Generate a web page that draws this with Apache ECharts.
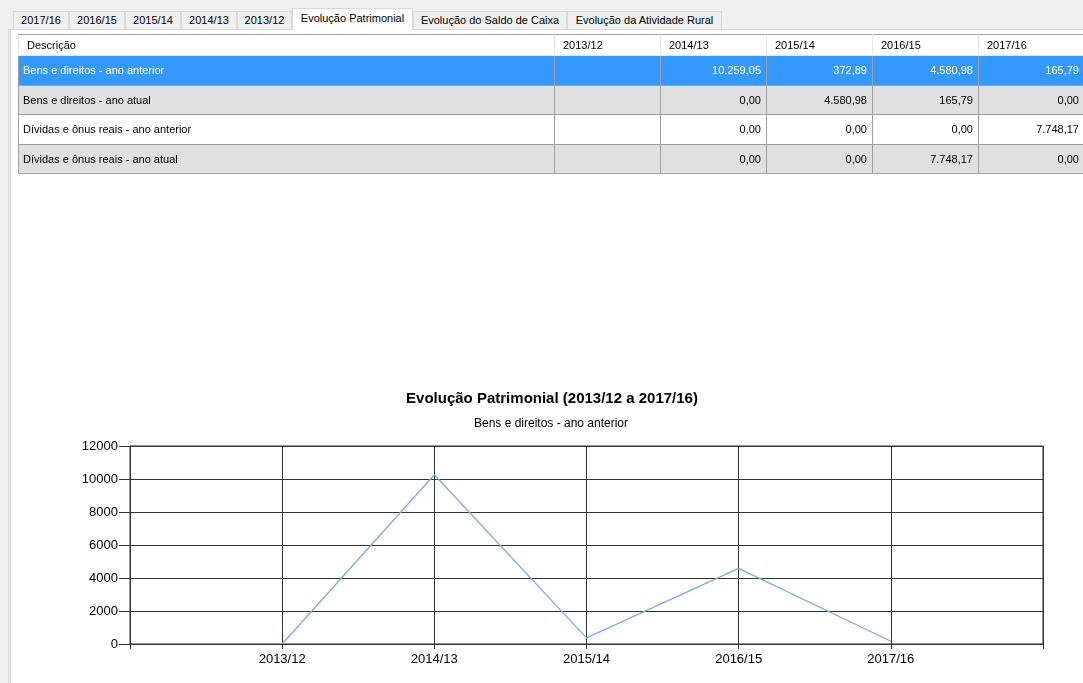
<!DOCTYPE html>
<html><head><meta charset="utf-8">
<script src="https://cdn.jsdelivr.net/npm/echarts@6/dist/echarts.min.js"></script>
<style>
html,body{margin:0;padding:0;width:1083px;height:683px;overflow:hidden;background:#f0f0f0;font-family:"Liberation Sans",Arial,sans-serif;font-size:11px;color:#000}
#panel{position:absolute;left:8px;top:29px;width:1080px;height:660px;background:#fff;border-left:3px solid #e3e3e3;border-top:1px solid #d9d9d9;box-sizing:border-box}
#chart{position:absolute;left:0;top:0;width:1083px;height:683px}
.tab{position:absolute;top:11px;height:18px;box-sizing:border-box;border:1px solid #d9d9d9;border-bottom:none;background:#f0f0f0;line-height:16px;text-align:center;white-space:nowrap}
.tab.sel{top:8px;height:22px;background:#fff;line-height:19px;z-index:3}
#tbl{position:absolute;left:18px;top:34px;width:1070px;overflow:hidden;z-index:2}
table{border-collapse:collapse;table-layout:fixed}
td{height:29.5px;padding:0 5px 0 4px;white-space:nowrap;border:1px solid #a0a0a0;box-sizing:border-box}
th{height:20px;font-weight:normal;text-align:left;padding:0 8px;border:1px solid #e5e5e5;border-top:1px solid #a0a0a0;background:#fff}
td.n{text-align:right;padding-right:5px}
tr.sel td{background:#3399ff;color:#fff}
tr.g td{background:#e0e0e0}
tr.w td{background:#fff}
</style></head><body>
<div id="panel"></div>
<div id="tabs"></div>
<div id="tbl"></div>
<div id="chart"></div>
<script>
// tab labels
var tabLabels = ["2017/16","2016/15","2015/14","2014/13","2013/12","Evolução Patrimonial","Evolução do Saldo de Caixa","Evolução da Atividade Rural"];
var tabEdges = [13,69,125,181,237,292,413,567,722];
// table
var periodos = ["2013/12","2014/13","2015/14","2016/15","2017/16"];
var descricoes = ["Bens e direitos - ano anterior","Bens e direitos - ano atual","Dívidas e ônus reais - ano anterior","Dívidas e ônus reais - ano atual"];
var bensAnterior = [null, 10259.05, 372.89, 4580.98, 165.79];
var bensAtual = [null, 0, 4580.98, 165.79, 0];
var dividasAnterior = [null, 0, 0, 0, 7748.17];
var dividasAtual = [null, 0, 0, 7748.17, 0];
// chart
var chartTitle = "Evolução Patrimonial (2013/12 a 2017/16)";
var chartSubtitle = "Bens e direitos - ano anterior";
var yMin = 0, yMax = 12000, yStep = 2000;

function fmt(v){
  if(v===null) return "";
  var p = v.toFixed(2).split(".");
  return p[0].replace(/\B(?=(\d{3})+(?!\d))/g,".")+","+p[1];
}
// tabs
var th = "";
tabLabels.forEach(function(t,i){
  var l = tabEdges[i], w = tabEdges[i+1]-l;
  th += '<div class="tab'+(i===5?' sel':'')+'" style="left:'+l+'px;width:'+w+'px">'+t+'</div>';
});
document.getElementById("tabs").innerHTML = th;
// table
var rows = [bensAnterior,bensAtual,dividasAnterior,dividasAtual];
var cls = ["sel","g","w","g"];
var h = '<table><colgroup><col style="width:536px">';
periodos.forEach(function(){ h += '<col style="width:106px">'; });
h += '</colgroup><tr><th>Descrição</th>';
periodos.forEach(function(p){ h += '<th>'+p+'</th>'; });
h += '</tr>';
rows.forEach(function(r,i){
  h += '<tr class="'+cls[i]+'"><td>'+descricoes[i]+'</td>';
  r.forEach(function(v){ h += '<td class="n">'+fmt(v)+'</td>'; });
  h += '</tr>';
});
h += '</table>';
document.getElementById("tbl").innerHTML = h;

var chart = echarts.init(document.getElementById("chart"), null, {renderer:"canvas"});
var seriesData = periodos.map(function(p,i){ return [i+1, bensAnterior[i]===null?0:bensAnterior[i]]; });
var lineCol = "#333333";
chart.setOption({
  backgroundColor: "transparent",
  animation: false,
  title: [
    {text: chartTitle, left: 547, top: 386, textAlign: "center",
     textStyle:{fontFamily:"Liberation Sans, Arial", fontSize:15, fontWeight:"bold", color:"#000"}},
    {text: chartSubtitle, left: 546, top: 413, textAlign: "center",
     textStyle:{fontFamily:"Liberation Sans, Arial", fontSize:12, fontWeight:"normal", color:"#000"}}
  ],
  grid: {left:130, right:40, top:446, bottom:39, show:true, borderColor:lineCol, borderWidth:1},
  xAxis: {
    type:"value", min:0, max:periodos.length+1, interval:1,
    axisLine:{show:true, lineStyle:{color:lineCol}},
    axisTick:{show:true, length:5, lineStyle:{color:lineCol}},
    splitLine:{show:true, lineStyle:{color:lineCol, width:1}},
    axisLabel:{color:"#000", fontSize:13, fontFamily:"Liberation Sans, Arial", margin:9,
      formatter:function(v){ return (v>=1 && v<=periodos.length) ? periodos[v-1] : ""; }}
  },
  yAxis: {
    type:"value", min:yMin, max:yMax, interval:yStep,
    axisLine:{show:true, lineStyle:{color:lineCol}},
    axisTick:{show:true, length:11, lineStyle:{color:lineCol}},
    splitLine:{show:true, lineStyle:{color:lineCol, width:1}},
    axisLabel:{color:"#000", fontSize:13, fontFamily:"Liberation Sans, Arial", margin:12,
      formatter:function(v){ return String(v); }}
  },
  series: [{
    type:"line", data: seriesData, showSymbol:false, symbol:"none",
    lineStyle:{color:"#78acf0", width:1.3}
  }]
});
</script>
</body></html>
